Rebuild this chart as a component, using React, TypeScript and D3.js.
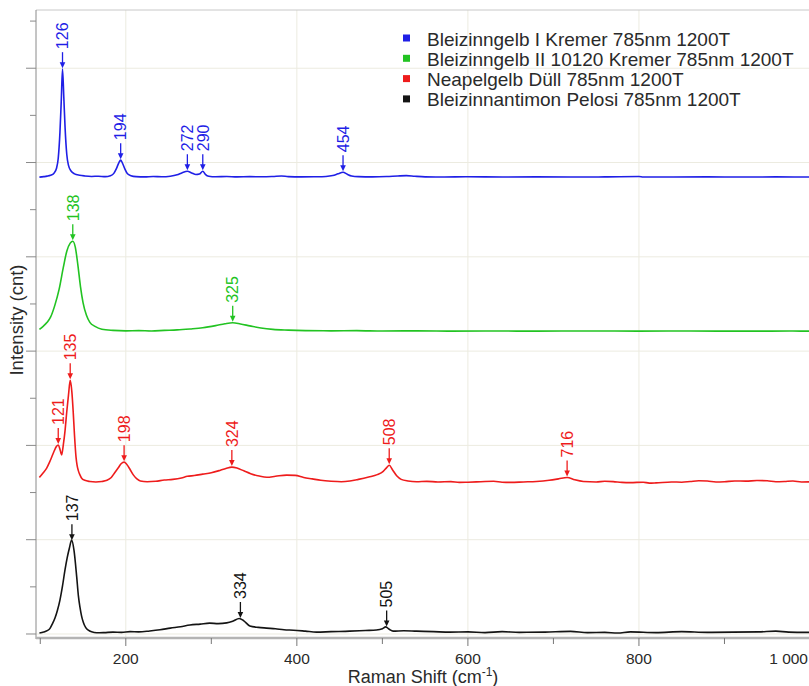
import React, { useRef, useEffect } from 'react'
import * as d3 from 'd3'

type Pt = [number, number]

// legend / series
const seriesNames = [
    'Bleizinngelb I Kremer 785nm 1200T',
    'Bleizinngelb II 10120 Kremer 785nm 1200T',
    'Neapelgelb Düll 785nm 1200T',
    'Bleizinnantimon Pelosi 785nm 1200T',
]
const seriesColors = ['#1f1fe6', '#22c322', '#ee1c1c', '#141414']
// vertical stacking offset of each spectrum (cnt)
const seriesOffsets = [9690, 6420, 3220, 20]

// spectra: [raman shift, intensity above own baseline]
const blueSpectrum: Pt[] = [
    [99, 0], [104, 10], [108, 21], [112, 40], [116, 85], [119, 190], [121, 400], [123, 950],
    [124.5, 1600], [126, 2290], [127.5, 1700], [129, 1050], [131, 480], [133, 250], [136, 130],
    [140, 70], [146, 40], [152, 25], [160, 15], [168, 20], [176, 10], [182, 30], [186, 80],
    [189, 180], [192, 310], [194, 360], [196, 300], [199, 170], [202, 70], [206, 30], [212, 10],
    [222, 5], [232, 12], [242, 8], [252, 20], [260, 50], [266, 95], [272, 125], [277, 90],
    [282, 55], [286, 65], [290, 125], [293, 60], [297, 20], [305, 8], [318, 12], [330, 5],
    [345, 10], [360, 8], [372, 15], [382, 25], [390, 10], [405, 5], [420, 8], [434, 15],
    [442, 35], [448, 70], [454, 105], [459, 60], [464, 25], [472, 10], [488, 5], [505, 12],
    [518, 25], [528, 32], [538, 18], [550, 6], [570, 3], [600, 8], [640, 2], [680, 6], [720, 3],
    [760, 5], [800, 12], [805, 4], [840, 3], [880, 6], [920, 2], [960, 5], [1000, 3],
]
const greenSpectrum: Pt[] = [
    [99, 40], [103, 100], [108, 190], [112, 300], [117, 550], [122, 890], [127, 1360], [131, 1700],
    [135, 1870], [138, 1910], [141, 1780], [144, 1400], [147, 950], [150, 610], [154, 340],
    [158, 190], [164, 105], [172, 45], [185, 20], [200, 10], [215, 15], [230, 8], [245, 20],
    [260, 30], [275, 50], [290, 75], [305, 120], [316, 160], [325, 180], [334, 155], [345, 115],
    [358, 70], [372, 40], [390, 25], [410, 15], [440, 10], [470, 15], [500, 5], [540, 10],
    [580, 4], [620, 8], [680, 3], [740, 7], [800, 4], [860, 6], [920, 3], [980, 5], [1000, 4],
]
const redSpectrum: Pt[] = [
    [99, 100], [103, 190], [107.5, 300], [111, 430], [113.3, 530], [116, 650], [119, 760],
    [121, 790], [123, 700], [125, 580], [127, 800], [129, 1100], [131, 1500], [133, 1850],
    [135, 2160], [137, 1900], [138.6, 1460], [140, 1000], [141.8, 530], [143, 360], [144.4, 250],
    [146.5, 150], [148.4, 85], [152, 40], [158, 15], [165, 5], [172, 15], [178, 40], [183, 100],
    [187, 200], [191, 300], [194.5, 390], [198, 425], [201, 380], [205, 270], [209, 150],
    [213, 70], [217, 25], [225, 10], [235, 20], [245, 45], [255, 60], [265, 90], [272, 125],
    [280, 140], [290, 170], [300, 200], [310, 250], [317, 290], [324, 320], [330, 300],
    [338, 240], [346, 180], [356, 130], [365, 105], [375, 125], [388, 150], [398, 145],
    [408, 100], [418, 70], [428, 40], [440, 20], [452, 10], [462, 25], [472, 60], [484, 110],
    [494, 160], [501, 230], [505, 310], [508, 360], [512, 260], [517, 130], [522, 60], [530, 25],
    [540, 10], [552, 18], [565, 5], [580, 12], [590, -5], [600, 0], [615, 10], [630, 20], [640, 0],
    [650, -5], [665, 5], [680, 15], [695, 40], [706, 70], [716, 100], [725, 50], [735, 15],
    [750, 5], [760, 20], [770, 12], [780, -5], [790, -10], [805, 0], [812, -20], [820, -15],
    [838, 5], [850, 0], [860, 15], [870, 30], [880, 25], [890, 5], [900, 10], [912, 25],
    [925, 22], [938, 35], [950, 30], [960, 10], [970, 15], [980, 25], [990, 5], [1000, 8],
]
const blackSpectrum: Pt[] = [
    [99, 0], [104, 20], [108, 50], [111.4, 100], [114, 190], [117.2, 320], [120, 480], [123, 700],
    [126, 1000], [128.9, 1340], [131.5, 1600], [134, 1800], [136.7, 1970], [139.4, 1760],
    [142.6, 1190], [144.5, 800], [146.4, 550], [148.3, 360], [150.3, 230], [153, 120],
    [156.2, 60], [160, 25], [166, 5], [175, 10], [185, 20], [195, 15], [205, 30], [215, 25],
    [228, 45], [240, 70], [252, 105], [264, 135], [275, 170], [287, 190], [298, 210], [308, 200],
    [318, 215], [325, 250], [332.7, 310], [338, 260], [345, 150], [355, 120], [364.5, 105],
    [375, 90], [385, 70], [396, 60], [410, 40], [423, 20], [440, 30], [462, 40], [480, 55],
    [493, 65], [500, 90], [504, 130], [508, 80], [512.5, 40], [525, 50], [540, 40], [560, 30],
    [579, 20], [600, 25], [620, 10], [640, 30], [660, 15], [690, 20], [720, 35], [740, 10],
    [760, 15], [775, 0], [790, 25], [820, 10], [850, 30], [880, 15], [910, 20], [940, 25],
    [960, 40], [975, 20], [1000, 15],
]
const spectra = [blueSpectrum, greenSpectrum, redSpectrum, blackSpectrum]

// labelled peaks per series
const bluePeaks = [126, 194, 272, 290, 454]
const greenPeaks = [138, 325]
const redPeaks = [121, 135, 198, 324, 508, 716]
const blackPeaks = [137, 334, 505]
const peaks = [bluePeaks, greenPeaks, redPeaks, blackPeaks]

// axes
const xMajorTicks = [200, 400, 600, 800, 1000]
const xMinorTicks = [100, 300, 500, 700, 900]
const yTicks = [0, 1000, 2000, 3000, 4000, 5000, 6000, 7000, 8000, 9000, 10000, 11000, 12000, 13000]

const App = () => {
    const ref = useRef<SVGSVGElement>(null)
    useEffect(() => {
        const left = 36
        const right = 810
        const top = 10
        const bottom = 638
        const svg = d3.select(ref.current)
        svg.selectAll('*').remove()

        const x = d3.scaleLinear().domain([95, 1000]).range([left, right])
        const y = d3.scaleLinear().domain([-85, 13235]).range([bottom, top])
        const fmt = d3.formatLocale({ decimal: ',', thousands: ' ', grouping: [3], currency: ['', ''] }).format(',')

        // grid
        const grid = svg.append('g')
        grid.selectAll('.gx').data(xMajorTicks).enter().append('line')
            .attr('x1', d => x(d)).attr('x2', d => x(d))
            .attr('y1', top).attr('y2', bottom)
            .style('stroke', '#ecebe0')
        grid.selectAll('.gy').data(yTicks.filter(d => d % 2000 === 0)).enter().append('line')
            .attr('x1', left).attr('x2', right)
            .attr('y1', d => y(d)).attr('y2', d => y(d))
            .style('stroke', '#ecebe0')

        // frame
        svg.append('line').attr('x1', left).attr('x2', right).attr('y1', top).attr('y2', top)
            .style('stroke', '#c8c8c8')
        svg.append('line').attr('x1', left).attr('x2', left).attr('y1', top).attr('y2', bottom + 1)
            .style('stroke', '#8a8a8a')
        svg.append('line').attr('x1', left).attr('x2', right).attr('y1', bottom).attr('y2', bottom)
            .style('stroke', '#b4b4b4').style('stroke-width', 2.5)

        // y ticks (no labels)
        svg.selectAll('.ty').data(yTicks).enter().append('line')
            .attr('x1', d => (d % 2000 === 0 ? left - 10 : left - 6)).attr('x2', left)
            .attr('y1', d => y(d)).attr('y2', d => y(d))
            .style('stroke', '#8a8a8a')

        // x ticks
        svg.selectAll('.txM').data(xMajorTicks).enter().append('line')
            .attr('x1', d => x(d)).attr('x2', d => x(d))
            .attr('y1', bottom).attr('y2', bottom + 8)
            .style('stroke', '#777')
        svg.selectAll('.txm').data(xMinorTicks).enter().append('line')
            .attr('x1', d => x(d)).attr('x2', d => x(d))
            .attr('y1', bottom).attr('y2', bottom + 6)
            .style('stroke', '#777')
        svg.selectAll('.tl').data(xMajorTicks).enter().append('text')
            .attr('x', d => (d === 1000 ? 808 : x(d))).attr('y', 664)
            .attr('text-anchor', d => (d === 1000 ? 'end' : 'middle'))
            .style('font-size', '15.5px').style('fill', '#2a2a2a')
            .text(d => fmt(d))

        // axis titles
        const xt = svg.append('text').attr('x', (left + right) / 2).attr('y', 683)
            .attr('text-anchor', 'middle').style('font-size', '18px').style('fill', '#2a2a2a')
        xt.append('tspan').text('Raman Shift (cm')
        xt.append('tspan').attr('dy', -7).style('font-size', '12px').text('-1')
        xt.append('tspan').attr('dy', 7).text(')')
        svg.append('text').attr('transform', 'translate(23, 320) rotate(-90)')
            .attr('text-anchor', 'middle').style('font-size', '18.5px').style('fill', '#2a2a2a')
            .text('Intensity (cnt)')

        // spectra
        const line = d3.line<Pt>().curve(d3.curveMonotoneX)
        spectra.forEach((s, i) => {
            const off = seriesOffsets[i]
            svg.append('path')
                .datum(s)
                .attr('d', line.x(d => x(d[0])).y(d => y(d[1] + off)))
                .attr('fill', 'none')
                .attr('stroke', seriesColors[i])
                .attr('stroke-width', 1.6)
                .attr('stroke-linejoin', 'round')
        })

        // peak labels with arrows
        const bis = d3.bisector((d: Pt) => d[0]).left
        const valueAt = (s: Pt[], v: number) => {
            const j = Math.max(1, Math.min(s.length - 1, bis(s, v)))
            const a = s[j - 1], b = s[j]
            const t = (v - a[0]) / (b[0] - a[0])
            return a[1] + (b[1] - a[1]) * t
        }
        peaks.forEach((list, i) => {
            const c = seriesColors[i]
            list.forEach(p => {
                const px = x(p)
                const tip = y(valueAt(spectra[i], p) + seriesOffsets[i]) - 1
                const topA = tip - 16
                const g = svg.append('g')
                g.append('line').attr('x1', px).attr('x2', px).attr('y1', topA).attr('y2', tip - 4)
                    .style('stroke', c).style('stroke-width', 1.3)
                g.append('path')
                    .attr('d', `M${px - 2.8},${tip - 6}L${px + 2.8},${tip - 6}L${px},${tip}Z`)
                    .style('fill', c)
                g.append('text')
                    .attr('transform', `translate(${px}, ${topA - 3}) rotate(-90)`)
                    .attr('dy', '0.36em')
                    .style('font-size', '16px').style('fill', c)
                    .text(p)
            })
        })

        // legend
        const lg = svg.append('g')
        seriesNames.forEach((n, i) => {
            const by = 45.5 + i * 20.3
            lg.append('rect').attr('x', 403).attr('y', by - 11).attr('width', 7).attr('height', 7)
                .style('fill', seriesColors[i])
            lg.append('text').attr('x', 427).attr('y', by)
                .style('font-size', '19px').style('fill', '#2a2a2a')
                .text(n)
        })
    }, [])
    return (
        <svg ref={ref} width={809} height={686}
            style={{ position: 'absolute', left: 0, top: 0, background: 'white', fontFamily: '"Liberation Sans", Arial, sans-serif' }} />
    )
}

export default App
